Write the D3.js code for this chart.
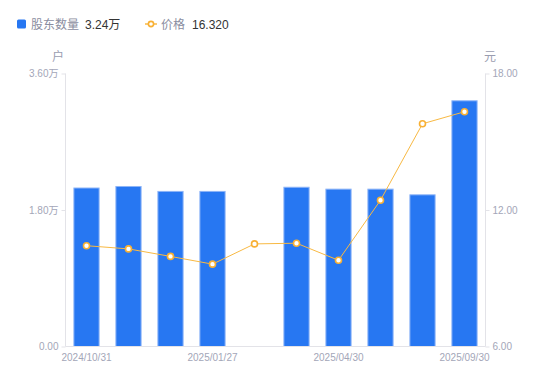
<!DOCTYPE html>
<html><head><meta charset="utf-8">
<script src="https://cdn.jsdelivr.net/npm/d3@7/dist/d3.min.js"></script>
<style>body{margin:0;background:#fff;font-family:"Liberation Sans","Noto Sans CJK SC",sans-serif;}</style>
</head><body><svg id="c" width="550" height="381"></svg>
<script>
const categories = ["2024/10/31","2024/11/29","2024/12/31","2025/01/27","2025/02/28","2025/03/31","2025/04/30","2025/06/30","2025/08/29","2025/09/30"];
const holders = [2.09, 2.11, 2.045, 2.045, null, 2.10, 2.075, 2.075, 2.00, 3.24]; // 万户
const prices = [10.43, 10.29, 9.96, 9.62, 10.51, 10.54, 9.79, 12.43, 15.79, 16.32];
const leftTicks = [0, 1.8, 3.6];
const rightTicks = [6, 12, 18];
const shownLabels = ["2024/10/31","2025/01/27","2025/04/30","2025/09/30"];

const FONT = "'Liberation Sans', 'Noto Sans CJK SC', sans-serif";
const svg = d3.select("#c").attr("font-family", FONT);
const L = 65.5, R = 485.5, T = 73.5, B = 346.5;
const x = d3.scaleBand().domain(categories).range([L, R]).paddingInner(0.4).paddingOuter(0.2);
const yL = d3.scaleLinear().domain([0, 3.6]).range([B, T]);
const yR = d3.scaleLinear().domain([6, 18]).range([B, T]);
const axisCol = "#e3e3e8", textCol = "#a3a6b8";

// axes lines
svg.append("line").attr("x1", L).attr("x2", L).attr("y1", T).attr("y2", B).attr("stroke", axisCol);
svg.append("line").attr("x1", R).attr("x2", R).attr("y1", T).attr("y2", B).attr("stroke", axisCol);

const gl = svg.append("g").attr("transform", `translate(${L},0)`)
  .call(d3.axisLeft(yL).tickValues(leftTicks).tickSize(4).tickPadding(3)
    .tickFormat(d => d === 0 ? "0.00" : d.toFixed(2) + "万"));
const gr = svg.append("g").attr("transform", `translate(${R},0)`)
  .call(d3.axisRight(yR).tickValues(rightTicks).tickSize(4).tickPadding(3)
    .tickFormat(d => d.toFixed(2)));
[gl, gr].forEach(g => {
  g.select(".domain").remove();
  g.selectAll(".tick line").attr("stroke", axisCol);
  g.selectAll(".tick text").attr("fill", textCol).attr("font-size", 10).attr("font-family", FONT);
});

// bars
svg.append("g").selectAll("rect").data(categories.map((c, i) => ({c, v: holders[i]})).filter(d => d.v != null))
  .join("rect")
  .attr("x", d => x(d.c)).attr("width", x.bandwidth())
  .attr("y", d => yL(d.v)).attr("height", d => yL(0) - yL(d.v))
  .attr("fill", "#2777f2").attr("stroke", "#8db4f7").attr("stroke-width", 1);

// bottom axis
svg.append("line").attr("x1", L).attr("x2", R).attr("y1", B).attr("y2", B).attr("stroke", axisCol);
const gb = svg.append("g").attr("transform", `translate(0,${B})`)
  .call(d3.axisBottom(x).tickValues(shownLabels).tickSize(0).tickPadding(7));
gb.select(".domain").remove();
gb.selectAll(".tick text").attr("fill", textCol).attr("font-size", 10).attr("font-family", FONT);

// line
const cx = c => x(c) + x.bandwidth() / 2;
const pts = categories.map((c, i) => ({c, v: prices[i]}));
svg.append("path").datum(pts)
  .attr("d", d3.line().x(d => cx(d.c)).y(d => yR(d.v)))
  .attr("fill", "none").attr("stroke", "#f8b943").attr("stroke-width", 1);
svg.append("g").selectAll("circle").data(pts).join("circle")
  .attr("cx", d => cx(d.c)).attr("cy", d => yR(d.v)).attr("r", 3)
  .attr("fill", "#fff").attr("stroke", "#f8b034").attr("stroke-width", 1.6);

// unit labels
svg.append("text").attr("x", 58).attr("y", 61).attr("text-anchor", "middle")
  .attr("font-size", 12).attr("fill", "#9a9db0").text("户");
svg.append("text").attr("x", 490).attr("y", 61).attr("text-anchor", "middle")
  .attr("font-size", 12).attr("fill", "#9a9db0").text("元");

// legend
const lg = svg.append("g").attr("font-size", 12);
lg.append("rect").attr("x", 17).attr("y", 19.5).attr("width", 9).attr("height", 9).attr("rx", 1.5).attr("fill", "#2777f2");
lg.append("text").attr("x", 31).attr("y", 28.5).attr("fill", "#8a8da0").text("股东数量");
lg.append("text").attr("x", 85).attr("y", 28.5).attr("fill", "#333").text("3.24万");
lg.append("line").attr("x1", 145).attr("x2", 157).attr("y1", 24).attr("y2", 24).attr("stroke", "#f8b943").attr("stroke-width", 1.5);
lg.append("circle").attr("cx", 151).attr("cy", 24).attr("r", 2.6).attr("fill", "#fff").attr("stroke", "#f8b034").attr("stroke-width", 1.6);
lg.append("text").attr("x", 161).attr("y", 28.5).attr("fill", "#8a8da0").text("价格");
lg.append("text").attr("x", 192).attr("y", 28.5).attr("fill", "#333").text("16.320");
</script></body></html>
